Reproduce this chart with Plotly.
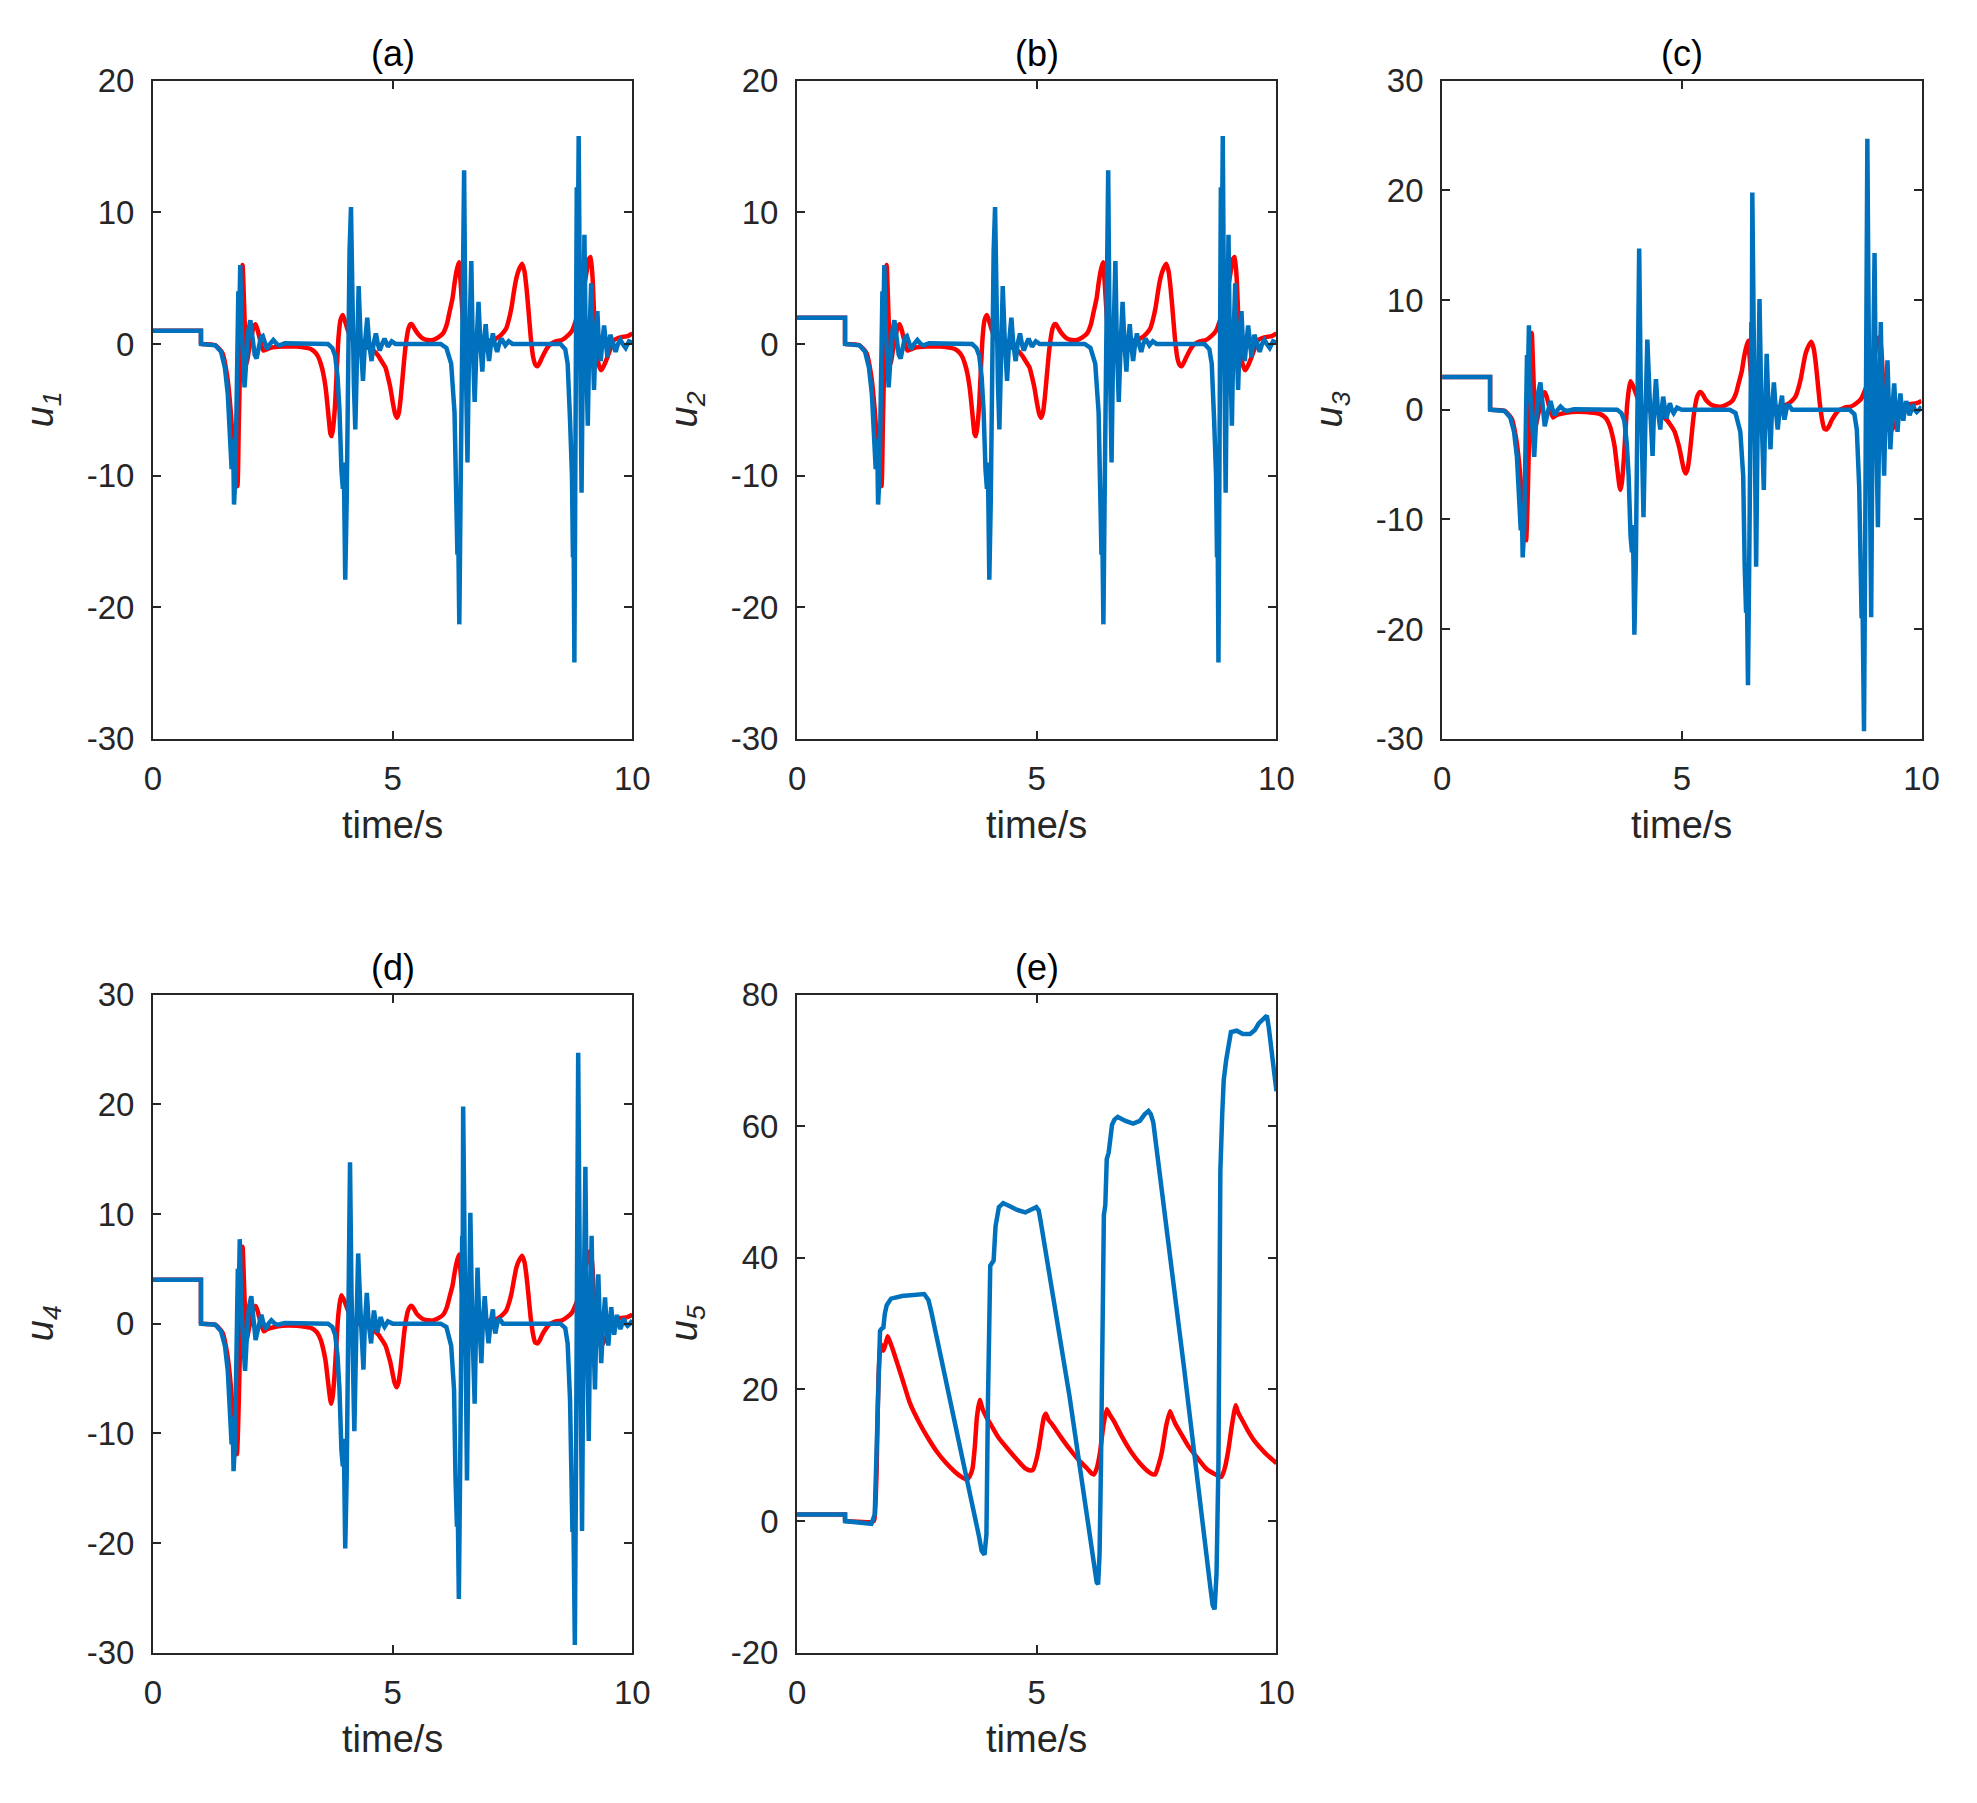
import plotly.graph_objects as go

# step level before t = 1 s for each panel
u0 = {"a": 1, "b": 2, "c": 3, "d": 4, "e": 1}

# panels (a)/(b): values after the step at t = 1 s
t_ab_blue = [1.0, 1.3, 1.42, 1.50, 1.56, 1.60, 1.64, 1.67, 1.69, 1.72, 1.75, 1.78, 1.80, 1.82,
             1.85, 1.88, 1.91, 1.95, 1.99, 2.03, 2.08, 2.12, 2.16, 2.21, 2.25, 2.29, 2.34,
             2.38, 2.44, 2.51, 2.58, 2.64, 2.75, 3.65,
             3.74, 3.80, 3.85, 3.89, 3.93, 3.96, 3.98, 4.01, 4.04, 4.07, 4.10, 4.13, 4.16,
             4.19, 4.22, 4.25, 4.29, 4.33, 4.38, 4.42, 4.47, 4.51, 4.56, 4.60, 4.65, 4.69,
             4.73, 4.78, 4.83, 4.90, 4.98, 5.06, 6.0,
             6.12, 6.22, 6.29, 6.32, 6.35, 6.36, 6.39, 6.42, 6.44, 6.46, 6.47, 6.49, 6.52,
             6.54, 6.56, 6.59, 6.61, 6.64, 6.67, 6.71, 6.75, 6.79, 6.83, 6.87, 6.90, 6.94,
             6.97, 7.01, 7.05, 7.09, 7.13, 7.18, 7.22, 7.27, 7.35, 7.42, 7.50, 8.50,
             8.60, 8.65, 8.70, 8.74, 8.76, 8.77, 8.79, 8.81, 8.83, 8.84, 8.86, 8.88, 8.91,
             8.94, 8.97, 9.00, 9.02, 9.04, 9.07, 9.10, 9.14, 9.17, 9.20, 9.23, 9.27, 9.30,
             9.34, 9.37, 9.41, 9.45, 9.48, 9.51, 9.54, 9.60, 9.65, 9.70, 9.75, 9.80, 9.86,
             9.93, 10.0]
u_ab_blue = [0, -0.1, -0.6, -1.8, -3.8, -6.5, -9.5, -7.2, -12.2, -10, -2, 4, 2, 6.0,
             1, -2, -3.3, -1, 1.0, 1.8, 0.5, -0.8, -1.1, -0.2, 0.5, 0.6, 0.0,
             -0.4, 0.0, 0.3, 0.0, -0.1, 0.05, 0,
             -0.3, -0.9, -2.5, -5, -9.5, -11, -9, -17.9, -12, 0, 7, 10.4, 2,
             -3, -6.5, -1, 4.4, 0.5, -2.8, 0, 2.0, 0, -1.3, 0, 0.8, 0,
             -0.5, 0, 0.4, -0.2, 0.2, 0, 0,
             -0.3, -1.5, -5.2, -12.3, -16, -12, -21.3, -10, -2.6, 6, 3, 13.2, 0,
             -5, -9.0, -1, 2, 6.3, 0, -4.4, 0, 3.2, 0, -2.1, 0, 1.5,
             0, -1.3, 0, 0.8, 0, -0.6, 0, 0.4, -0.1, 0.2, 0, 0,
             -0.4, -1.5, -5.8, -10, -16.2, -12, -24.2, -14, 0, 11.9, 6, 15.8, 0,
             -11.3, 0, 8.3, 2, -3, -6.2, 0, 4.6, 0, -3.5, 0, 2.5, 0,
             -1.3, 0, 1.4, 0, -1.0, 0, 0.7, 0, -0.6, 0, 0.3, 0, -0.3,
             0.2, 0.1]

t_ab_red = [1.0, 1.3, 1.45, 1.55, 1.63, 1.70, 1.76, 1.79, 1.82, 1.85, 1.87, 1.90, 1.95, 2.0,
            2.05, 2.10, 2.14, 2.18, 2.22, 2.30, 2.38, 2.45, 2.7, 3.0, 3.2, 3.3, 3.4, 3.45,
            3.5, 3.55, 3.6, 3.63, 3.67, 3.70, 3.73, 3.76, 3.80, 3.84, 3.87, 3.91, 3.96,
            4.0, 4.05, 4.1, 4.15, 4.25, 4.35, 4.5, 4.6, 4.7, 4.75, 4.85, 4.9, 4.95, 5.0,
            5.05, 5.09, 5.13, 5.17, 5.21, 5.25, 5.29, 5.33, 5.37, 5.40, 5.45, 5.5, 5.57,
            5.64, 5.74, 5.84, 5.95, 6.05, 6.13, 6.19, 6.25, 6.29, 6.33, 6.38, 6.42, 6.47,
            6.52, 6.58, 6.66, 6.75, 6.9, 7.08, 7.2, 7.29, 7.37, 7.42, 7.48, 7.53, 7.58,
            7.64, 7.70, 7.75, 7.79, 7.83, 7.88, 7.93, 7.98, 8.02, 8.07, 8.12, 8.19, 8.26,
            8.4, 8.53, 8.64, 8.74, 8.84, 8.92, 9.0, 9.06, 9.10, 9.13, 9.17, 9.21, 9.25,
            9.30, 9.35, 9.40, 9.48, 9.55, 9.62, 9.75, 9.9, 10.0]
u_ab_red = [0, -0.1, -0.7, -2.5, -5.5, -9.5, -10.8, -6, -1, 4, 6.0, 3, -1.5, -0.5,
            0.5, 1.3, 1.5, 1.1, 0.5, -0.5, -0.4, -0.3, -0.2, -0.2, -0.3, -0.4, -0.7, -1.0,
            -1.5, -2.2, -3.3, -4.3, -5.8, -6.8, -7.0, -6.3, -4.5, -1.5, 0.5, 1.8, 2.2,
            1.8, 1.2, 0.7, 0.4, 0.1, -0.1, -0.3, -0.5, -0.9, -1.2, -1.8, -2.5, -3.3, -4.4,
            -5.3, -5.6, -5.2, -4, -2.4, -0.8, 0.4, 1.2, 1.5, 1.5, 1.2, 0.9, 0.6,
            0.4, 0.3, 0.3, 0.5, 0.8, 1.5, 2.5, 3.5, 4.6, 5.5, 6.2, 4.5, 1.5,
            -0.5, -1.0, -0.5, 0, 0.2, 0.3, 0.5, 0.8, 1.2, 1.8, 2.8, 4.0, 5.0,
            5.7, 6.1, 5.5, 4.3, 2.7, 0.5, -1.0, -1.6, -1.7, -1.4, -1.0, -0.5, -0.1,
            0.2, 0.3, 0.6, 1.0, 2.0, 3.0, 4.5, 5.8, 6.5, 6.6, 5, 1.5, -0.5,
            -1.6, -2.0, -1.7, -1.0, -0.3, 0.3, 0.5, 0.6, 0.8]

# panels (c)/(d)
t_cd_blue = [1.0, 1.3, 1.42, 1.50, 1.56, 1.60, 1.64, 1.66, 1.68, 1.71, 1.74, 1.77, 1.79, 1.81,
             1.84, 1.88, 1.92, 1.96, 2.0, 2.05, 2.09, 2.14, 2.2, 2.26, 2.3, 2.35, 2.41,
             2.47, 2.54, 2.6, 2.75, 3.65,
             3.74, 3.80, 3.85, 3.89, 3.93, 3.96, 3.98, 4.01, 4.04, 4.07, 4.09, 4.11, 4.14,
             4.17, 4.20, 4.24, 4.28, 4.33, 4.39, 4.42, 4.46, 4.50, 4.55, 4.58, 4.61, 4.65,
             4.68, 4.72, 4.75, 4.79, 4.83, 4.90, 5.0, 6.0,
             6.12, 6.22, 6.28, 6.31, 6.34, 6.35, 6.38, 6.41, 6.43, 6.45, 6.46, 6.47, 6.51,
             6.53, 6.55, 6.58, 6.60, 6.62, 6.66, 6.71, 6.74, 6.77, 6.81, 6.85, 6.88, 6.92,
             6.96, 7.0, 7.04, 7.09, 7.11, 7.14, 7.18, 7.22, 7.3, 8.5,
             8.60, 8.65, 8.70, 8.73, 8.75, 8.76, 8.80, 8.82, 8.84, 8.85, 8.86, 8.87, 8.91,
             8.95, 8.98, 9.0, 9.02, 9.05, 9.09, 9.12, 9.15, 9.18, 9.22, 9.25, 9.29, 9.32,
             9.35, 9.39, 9.43, 9.46, 9.5, 9.53, 9.56, 9.59, 9.62, 9.65, 9.68, 9.72, 9.75,
             9.79, 9.82, 9.86, 9.9, 9.95, 10.0]
u_cd_blue = [0, -0.1, -0.7, -2, -4.3, -7.5, -11, -8.5, -13.45, -11, -2, 5, 3, 7.7,
             1.5, -2, -4.3, -1, 1.5, 2.5, 0.5, -1.5, -0.3, 0.8, 0.1, -0.5, 0,
             0.3, 0, -0.1, 0.05, 0,
             -0.3, -1, -3, -6, -11.5, -13, -10.5, -20.5, -14, 0, 9, 14.7, 3,
             -4, -9.8, -1, 6.4, 1, -4.2, 0, 2.8, 0, -1.8, 0, 1.2, 0,
             -0.8, 0, 0.6, 0, -0.3, 0.2, 0, 0,
             -0.3, -2, -6, -14, -18.5, -14, -25.1, -12, -3, 8, 4, 19.8, 0,
             -6, -14.3, -2, 3, 10.1, 0, -7.3, 0, 5.1, 0, -3.6, 0, 2.5,
             0, -1.8, 0, 1.3, 0, -0.9, 0, 0.5, 0, 0,
             -0.4, -1.8, -7, -12, -19, -14, -29.3, -16, 0, 14, 8, 24.7, 0,
             -18.9, 0, 5, 14.3, 0, -10.7, 0, 8.0, 0, -6.0, 0, 4.5, 0,
             -3.6, 0, 2.4, 0, -2.0, 0, 1.5, 0, -1.0, 0, 0.8, 0, -0.5,
             0, 0.5, 0, -0.2, 0, 0.3]

t_cd_red = [1.0, 1.3, 1.45, 1.55, 1.63, 1.70, 1.75, 1.79, 1.82, 1.85, 1.87, 1.90, 1.95, 2.0,
            2.05, 2.10, 2.14, 2.18, 2.22, 2.31, 2.38, 2.45, 2.7, 3.0, 3.2, 3.3, 3.4, 3.45,
            3.5, 3.55, 3.6, 3.63, 3.67, 3.70, 3.72, 3.75, 3.79, 3.83, 3.86, 3.90, 3.93,
            3.98, 4.05, 4.1, 4.15, 4.25, 4.35, 4.5, 4.6, 4.7, 4.75, 4.85, 4.9, 4.95, 5.0,
            5.04, 5.08, 5.12, 5.16, 5.2, 5.24, 5.28, 5.32, 5.37, 5.40, 5.45, 5.5, 5.57,
            5.64, 5.74, 5.84, 5.95, 6.05, 6.13, 6.19, 6.25, 6.29, 6.33, 6.38, 6.42, 6.47,
            6.52, 6.58, 6.66, 6.75, 6.9, 7.08, 7.2, 7.29, 7.37, 7.42, 7.48, 7.53, 7.58,
            7.64, 7.70, 7.75, 7.79, 7.83, 7.88, 7.93, 7.97, 8.02, 8.07, 8.12, 8.19, 8.26,
            8.4, 8.53, 8.64, 8.74, 8.84, 8.92, 9.0, 9.06, 9.10, 9.13, 9.17, 9.21, 9.25,
            9.30, 9.35, 9.40, 9.48, 9.55, 9.62, 9.75, 9.9, 10.0]
u_cd_red = [0, -0.1, -0.8, -2.8, -6, -10.5, -11.9, -7, -1, 5, 7.0, 3.5, -1.5, -0.5,
            0.5, 1.4, 1.6, 1.2, 0.5, -0.7, -0.5, -0.4, -0.2, -0.2, -0.3, -0.4, -0.7, -1.0,
            -1.5, -2.3, -3.4, -4.5, -6.0, -7.0, -7.3, -6.6, -4.5, -1.5, 0.5, 2.0, 2.6,
            2.2, 1.4, 0.8, 0.4, 0.1, -0.1, -0.3, -0.6, -1.0, -1.3, -2.0, -2.7, -3.5, -4.6,
            -5.4, -5.8, -5.4, -4.2, -2.5, -0.8, 0.4, 1.2, 1.6, 1.6, 1.3, 0.9, 0.6,
            0.4, 0.3, 0.3, 0.5, 0.8, 1.5, 2.5, 3.5, 4.6, 5.5, 6.3, 4.5, 1.5,
            -0.5, -1.0, -0.5, 0, 0.2, 0.3, 0.5, 0.8, 1.2, 1.8, 2.8, 4.0, 5.1,
            5.8, 6.2, 5.6, 4.4, 2.7, 0.5, -1.0, -1.7, -1.8, -1.5, -1.0, -0.5, -0.1,
            0.2, 0.3, 0.6, 1.0, 2.0, 3.0, 4.5, 5.8, 6.5, 6.6, 5, 1.5, -0.5,
            -1.6, -2.0, -1.7, -1.0, -0.3, 0.3, 0.5, 0.6, 0.8]

# panel (e)
t_e_blue = [1.0, 1.2, 1.55, 1.62, 1.66, 1.70, 1.73, 1.76, 1.80, 1.83, 1.87, 1.96, 2.19, 2.65,
            2.74, 2.80, 3.11, 3.47, 3.80, 3.85, 3.91, 3.95, 3.98, 4.00, 4.03, 4.10, 4.14,
            4.21, 4.30, 4.45, 4.58, 4.76, 4.90, 4.99, 5.04, 5.08, 5.68, 6.20, 6.25, 6.28,
            6.31, 6.34, 6.37, 6.40, 6.43, 6.46, 6.50, 6.53, 6.57, 6.62, 6.69, 6.85, 7.01,
            7.15, 7.25, 7.33, 7.38, 7.43, 8.07, 8.62, 8.67, 8.71, 8.75, 8.79, 8.81, 8.83,
            8.87, 8.90, 8.95, 8.99, 9.02, 9.05, 9.17, 9.30, 9.45, 9.55, 9.63, 9.72, 9.80,
            9.84, 9.90, 10.0]
u_e_blue = [0, -0.2, -0.4, 1, 12, 22, 28.9, 29.2, 29.4, 31.5, 32.8, 33.8, 34.2, 34.5,
            33.6, 31.8, 20.8, 8.8, -2.5, -4.5, -5.1, -2, 17.4, 30, 38.8, 39.6, 44.8,
            47.7, 48.3, 47.8, 47.3, 46.9, 47.3, 47.7, 47.2, 45.6, 19.1, -7, -9.3, -9.6,
            -5, 8.8, 30, 46.5, 48, 55.0, 56, 57.6, 60.2, 61.0, 61.4, 60.8, 60.4,
            60.8, 61.8, 62.3, 61.8, 60.6, 23.4, -10, -12.8, -13.4, -8, 8.8, 30, 53.3,
            62, 67.0, 70, 71.7, 73, 74.3, 74.5, 74.0, 74.0, 74.6, 75.6, 76.2, 76.8,
            75, 71, 65.3]

t_e_red = [1.0, 1.6, 1.63, 1.66, 1.68, 1.70, 1.73, 1.76, 1.80, 1.83, 1.89, 1.95, 2.0, 2.19,
           2.35, 2.56, 2.75, 2.92, 3.1, 3.29, 3.45, 3.54, 3.6, 3.66, 3.71, 3.75, 3.81,
           3.87, 3.95, 4.03, 4.2, 4.39, 4.58, 4.76, 4.86, 4.92, 4.98, 5.04, 5.1, 5.15,
           5.19, 5.25, 5.31, 5.5, 5.68, 5.86, 6.05, 6.15, 6.19, 6.25, 6.32, 6.39, 6.46,
           6.52, 6.6, 6.78, 6.97, 7.15, 7.33, 7.42, 7.47, 7.54, 7.61, 7.7, 7.78, 7.83,
           7.89, 8.0, 8.16, 8.35, 8.53, 8.7, 8.85, 8.92, 8.99, 9.07, 9.15, 9.2, 9.26,
           9.4, 9.54, 9.77, 10.0]
u_e_red = [0, 0, 2, 8, 16, 22, 26, 26.8, 25.9, 26.5, 28.1, 27, 26, 21.7,
           18, 14.8, 12.4, 10.5, 8.9, 7.5, 6.6, 6.3, 6.8, 8.0, 11.5, 15.7, 18.4,
           17, 15.8, 14.8, 12.7, 11.0, 9.4, 8.0, 7.7, 7.8, 9, 11.0, 13.8, 15.8,
           16.3, 15.3, 14.8, 12.8, 11.0, 9.4, 8.0, 7.2, 7.1, 8.0, 10.5, 14.5, 17.0,
           16.2, 15.3, 12.8, 10.5, 8.8, 7.5, 7.1, 7.1, 8.5, 10.5, 14.5, 16.7, 15.8,
           14.8, 13.4, 11.4, 9.6, 8.0, 7.2, 6.7, 8, 10.5, 14.5, 17.6, 16.5, 15.7,
           13.8, 12.2, 10.3, 8.8]

panels = [
    ("a", "(a)", "u<sub>1</sub>", t_ab_red, u_ab_red, t_ab_blue, u_ab_blue, [-30, -20, -10, 0, 10, 20]),
    ("b", "(b)", "u<sub>2</sub>", t_ab_red, u_ab_red, t_ab_blue, u_ab_blue, [-30, -20, -10, 0, 10, 20]),
    ("c", "(c)", "u<sub>3</sub>", t_cd_red, u_cd_red, t_cd_blue, u_cd_blue, [-30, -20, -10, 0, 10, 20, 30]),
    ("d", "(d)", "u<sub>4</sub>", t_cd_red, u_cd_red, t_cd_blue, u_cd_blue, [-30, -20, -10, 0, 10, 20, 30]),
    ("e", "(e)", "u<sub>5</sub>", t_e_red, u_e_red, t_e_blue, u_e_blue, [-20, 0, 20, 40, 60, 80]),
]
x_ticks = [0, 5, 10]

# reference frame (pixels of the 1977x1803 picture), turned into paper fractions
W, H = 1977, 1803
col_left = [146, 799, 1453]
ax_w = 486
row_top = [64, 997]
ax_h = 672

AX = "#262626"
FONT = "Liberation Sans, Arial, sans-serif"

fig = go.Figure()
annotations = []
for i, (key, title, ylab, tr, ur, tb, ub, yt) in enumerate(panels):
    r, c = divmod(i, 3)
    n = "" if i == 0 else str(i + 1)
    x0 = col_left[c] / W
    x1 = (col_left[c] + ax_w) / W
    y1 = 1 - row_top[r] / H
    y0 = 1 - (row_top[r] + ax_h) / H

    # red: step part straight, rest smoothed
    fig.add_trace(go.Scatter(x=[0, 1.0, 1.0], y=[u0[key], u0[key], 0], mode="lines",
                             line=dict(color="#FF0000", width=4.5),
                             xaxis="x" + n, yaxis="y" + n, showlegend=False, hoverinfo="skip"))
    fig.add_trace(go.Scatter(x=tr, y=ur, mode="lines",
                             line=dict(color="#FF0000", width=4.5, shape="spline", smoothing=0.5),
                             xaxis="x" + n, yaxis="y" + n, showlegend=False, hoverinfo="skip"))
    fig.add_trace(go.Scatter(x=[0, 1.0] + tb, y=[u0[key], u0[key]] + ub, mode="lines",
                             line=dict(color="#0072BD", width=4.5), xaxis="x" + n, yaxis="y" + n,
                             showlegend=False, hoverinfo="skip"))

    common = dict(showline=True, linecolor=AX, linewidth=2, mirror="ticks", ticks="inside",
                  ticklen=8, tickwidth=2, tickcolor=AX, showgrid=False, zeroline=False,
                  tickfont=dict(family=FONT, size=33, color=AX), ticklabelstandoff=10)
    fig.layout["xaxis" + n] = dict(domain=[x0, x1], range=[0, 10], tickvals=x_ticks,
                                   ticktext=[str(v) for v in x_ticks], anchor="y" + n, **common)
    fig.layout["yaxis" + n] = dict(domain=[y0, y1], range=[yt[0], yt[-1]], tickvals=yt,
                                   ticktext=[str(v) for v in yt], anchor="x" + n, **common)

    xc = (col_left[c] + ax_w / 2) / W
    annotations.append(dict(text=title, x=xc, y=1 - (row_top[r] - 28) / H, xref="paper", yref="paper",
                            showarrow=False, xanchor="center", yanchor="middle",
                            font=dict(family=FONT, size=36, color="black")))
    annotations.append(dict(text="time/s", x=xc, y=1 - (row_top[r] + ax_h + 88) / H, xref="paper",
                            yref="paper", showarrow=False, xanchor="center", yanchor="middle",
                            font=dict(family=FONT, size=38, color=AX)))
    annotations.append(dict(text="<i>" + ylab + "</i>", x=(col_left[c] - 112) / W,
                            y=1 - (row_top[r] + ax_h / 2) / H, xref="paper", yref="paper",
                            showarrow=False, textangle=-90, xanchor="center", yanchor="middle",
                            font=dict(family=FONT, size=38, color=AX)))

fig.update_layout(autosize=True, margin=dict(l=0, r=0, t=0, b=0),
                  paper_bgcolor="white", plot_bgcolor="white", annotations=annotations)
fig.write_html("out.html", config={"displayModeBar": False},
               post_script="document.body.style.margin = '0px';"
                           "document.body.style.overflow = 'hidden';"
                           "Plotly.Plots.resize(document.getElementById('{plot_id}'));")
